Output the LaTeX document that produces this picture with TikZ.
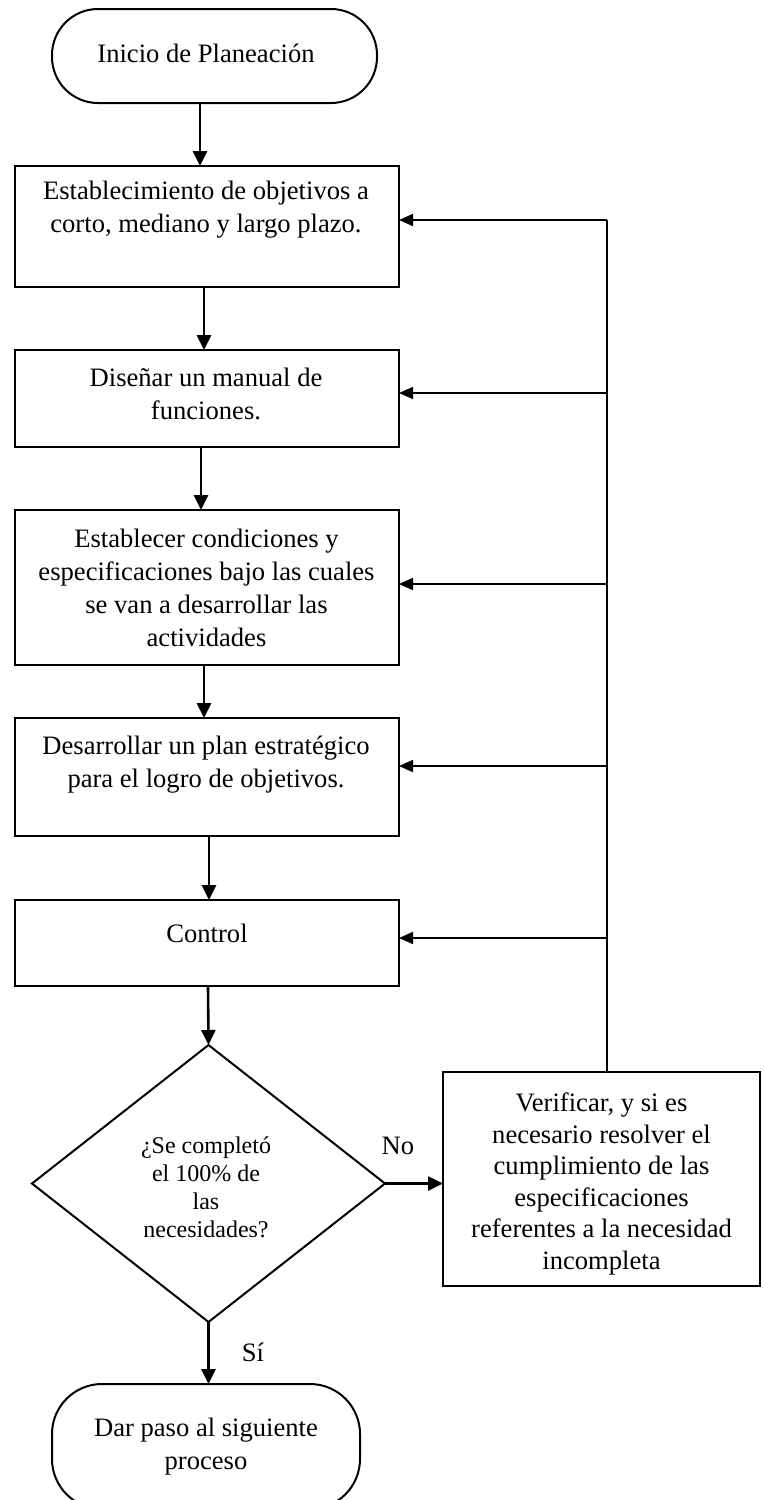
\documentclass[tikz,border=0pt]{standalone}
\usepackage{fontspec}
\setmainfont{Liberation Serif}
\usetikzlibrary{arrows.meta,shapes.geometric}

\begin{document}
\begin{tikzpicture}[x=0.5pt,y=-0.5pt,
  box/.style={draw, line width=1.3pt, rectangle, inner sep=0pt, outer sep=0pt},
  term/.style={draw, line width=1pt, rectangle, rounded corners=23pt, inner sep=0pt, outer sep=0pt},
  decision/.style={draw, line width=1pt, diamond, inner sep=0pt, outer sep=0pt},
  txt/.style={align=center, inner sep=0pt, font=\fontsize{13.3}{16.5}\selectfont},
  flow/.style={line width=1.3pt, -{Triangle[length=7.5pt,width=7pt]}},
  back/.style={line width=0.85pt, -{Triangle[length=7pt,width=6pt]}},
  rail/.style={line width=0.7pt}]

\useasboundingbox (0,0) rectangle (764,1500);

% terminals
\node[term, minimum width=162.5pt, minimum height=47pt] (start) at (214.5,56) {};
\node[txt] (tstart) at (206,53) {Inicio de Planeación};

\node[term, rounded corners=25pt, minimum width=154pt, minimum height=62.5pt] (endt) at (206,1446.5) {};
\node[txt] (tend) at (206,1446.5) {Dar paso al siguiente\\proceso};

% process boxes
\node[box, minimum width=192pt, minimum height=60.5pt] (b1) at (207,226.5) {};
\node[txt] (t1) at (206,210) {Establecimiento de objetivos a\\corto, mediano y largo plazo.};

\node[box, minimum width=192pt, minimum height=48.5pt] (b2) at (207,398.5) {};
\node[txt] (t2) at (206,394) {Diseñar un manual de\\funciones.};

\node[box, minimum width=192pt, minimum height=77.5pt] (b3) at (207,587.5) {};
\node[txt] (t3) at (206.5,587.5) {Establecer condiciones y\\especificaciones bajo las cuales\\se van a desarrollar las\\actividades};

\node[box, minimum width=192pt, minimum height=59pt] (b4) at (207,777) {};
\node[txt] (t4) at (206,765) {Desarrollar un plan estratégico\\para el logro de objetivos.};

\node[box, minimum width=192pt, minimum height=43pt] (b5) at (207,943) {};
\node[txt] (t5) at (207,933) {Control};

% decision
\node[decision, minimum width=176.5pt, minimum height=138.5pt] (dec) at (208.5,1183.5) {};
\node[txt, font=\fontsize{12}{14}\selectfont] (tdec) at (206,1187) {¿Se completó\\el 100\% de\\las\\necesidades?};

% verification box
\node[box, minimum width=158.5pt, minimum height=107pt] (verify) at (601.5,1179) {};
\node[txt, font=\fontsize{13.3}{15.8}\selectfont] (tver) at (601.5,1184) {Verificar, y si es\\necesario resolver el\\cumplimiento de las\\especificaciones\\referentes a la necesidad\\incompleta};

% branch labels
\node[txt] (no) at (398,1146) {No};
\node[txt] (si) at (253,1352) {Sí};

% main flow
\draw[flow] ([xshift=-7.25pt]start.south) -- ([xshift=-3.5pt]b1.north);
\draw[flow] ([xshift=-1.5pt]b1.south) -- ([xshift=-1.5pt]b2.north);
\draw[flow] ([xshift=-3pt]b2.south) -- ([xshift=-3pt]b3.north);
\draw[flow] ([xshift=-1.5pt]b3.south) -- ([xshift=-1.5pt]b4.north);
\draw[flow] ([xshift=1pt]b4.south) -- ([xshift=1pt]b5.north);
\draw[flow] ([xshift=0.5pt]b5.south) -- (dec.north);
\draw[flow] (dec.south) -- (dec.south |- endt.north);
\draw[flow] (dec.east) -- (dec.east -| verify.west);

% feedback rail
\coordinate (r1) at (607,220);
\coordinate (r2) at (607,393);
\coordinate (r3) at (607,584);
\coordinate (r4) at (607,766);
\coordinate (r5) at (607,938);
\draw[rail] (verify.north -| r1) -- (r1);
\draw[back] (r1) -- (r1 -| b1.east);
\draw[back] (r2) -- (r2 -| b2.east);
\draw[back] (r3) -- (r3 -| b3.east);
\draw[back] (r4) -- (r4 -| b4.east);
\draw[back] (r5) -- (r5 -| b5.east);
\end{tikzpicture}
\end{document}
